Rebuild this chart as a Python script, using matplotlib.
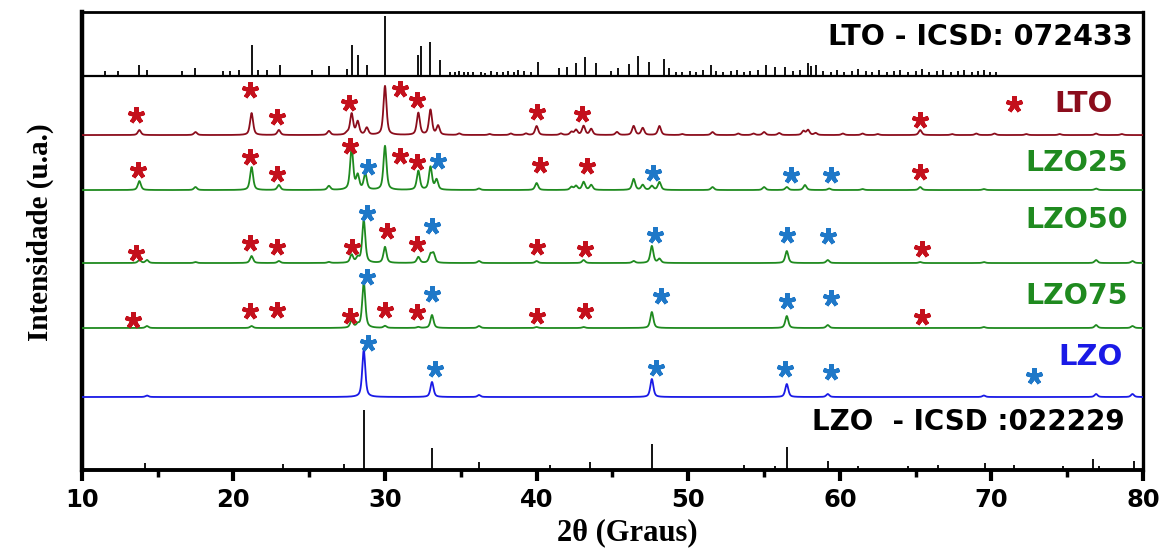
import numpy as np
import matplotlib
matplotlib.use("Agg")
import matplotlib.pyplot as plt
from matplotlib.ticker import MultipleLocator
from matplotlib.markers import MarkerStyle

# ---------------------------------------------------------------
# Reference cards (stick patterns): 2θ position and relative height
# ---------------------------------------------------------------
lto_card_pos = [11.5, 12.4, 13.8, 14.3, 16.6, 17.5, 19.3, 19.8, 20.4, 21.2, 21.6,
                22.2, 23.1, 25.2, 26.3, 27.5, 27.8, 28.2, 28.8, 30.0, 32.2, 32.4,
                33.0, 33.6, 34.3, 34.6, 34.9, 35.2, 35.5, 35.8, 36.3, 36.6, 37.0,
                37.4, 37.8, 38.1, 38.5, 38.8, 39.2, 39.6, 40.1, 41.5, 42.0, 42.6,
                43.2, 43.9, 44.9, 45.4, 46.1, 46.7, 47.4, 48.4, 48.7, 49.2, 49.6,
                50.1, 50.5, 51.0, 51.5, 51.8, 52.3, 52.8, 53.2, 53.7, 54.1, 54.6,
                55.1, 55.7, 56.4, 56.9, 57.4, 57.9, 58.1, 58.4, 58.9, 59.4, 59.8,
                60.3, 60.8, 61.2, 61.7, 62.1, 62.6, 63.1, 63.6, 64.0, 64.5, 65.0,
                65.4, 65.9, 66.4, 66.8, 67.3, 67.8, 68.2, 68.7, 69.1, 69.5, 69.9,
                70.3]
lto_card_int = [5, 5, 11, 6, 5, 8, 5, 5, 6, 31, 6,
                6, 11, 6, 10, 7, 31, 21, 11, 60, 21, 30,
                34, 16, 4, 4, 5, 4, 4, 4, 4, 3, 5,
                4, 4, 5, 4, 6, 5, 4, 14, 8, 9, 13,
                19, 13, 5, 8, 12, 20, 14, 17, 8, 4, 4,
                5, 4, 6, 11, 5, 4, 5, 6, 4, 5, 6,
                11, 9, 9, 5, 6, 13, 10, 11, 5, 4, 6,
                4, 5, 7, 5, 4, 6, 4, 5, 6, 4, 5,
                7, 4, 5, 6, 4, 5, 6, 4, 5, 6, 4,
                4]

lzo_card_pos = [14.2, 23.3, 27.3, 28.6, 33.1, 36.2, 40.9, 43.5, 47.6, 53.7, 55.7,
                56.5, 59.2, 61.2, 64.5, 66.5, 69.6, 71.5, 74.7, 76.7, 77.1, 79.4]
lzo_card_int = [7, 6, 6, 60, 22, 8, 5, 8, 26, 5, 4,
                23, 9, 4, 4, 5, 7, 5, 4, 11, 4, 9]

# ---------------------------------------------------------------
# Measured patterns: peak positions (2θ) and peak heights
# ---------------------------------------------------------------
lto_peak_pos = [13.8, 17.5, 21.2, 23.0, 26.3, 27.5, 27.8, 28.2, 28.8, 30.0, 32.2,
                33.0, 33.5, 34.9, 36.9, 38.3, 39.3, 40.0, 41.6, 42.3, 42.6, 43.1,
                43.6, 45.3, 46.4, 47.0, 48.1, 49.6, 51.6, 53.3, 54.3, 55.0, 56.0,
                57.6, 57.9, 58.4, 60.2, 61.5, 62.5, 65.3, 67.4, 69.0, 70.2, 72.3,
                74.5, 76.9, 78.6]
lto_peak_int = [5, 3, 22, 5, 4, 2, 21, 13, 7, 49, 22,
                25, 9, 1.5, 1, 1.5, 1.5, 9, 1.5, 3, 5, 9,
                6, 3, 9, 7, 9, 1, 3, 1.5, 1.5, 3, 2,
                4, 5, 2, 1.5, 1.5, 1, 5, 1, 1.5, 1.5, 1,
                1, 1.5, 1]

lzo25_peak_pos = [13.8, 17.5, 21.2, 23.0, 26.3, 27.8, 28.2, 28.7, 30.0, 32.2, 33.0,
                  33.4, 36.2, 40.0, 42.3, 42.6, 43.1, 43.6, 46.4, 47.0, 47.6, 48.1,
                  51.6, 55.0, 56.5, 57.7, 59.3, 61.5, 65.3, 69.5, 76.9]
lzo25_peak_int = [9, 3, 23, 5, 4, 42, 14, 16, 44, 19, 23,
                  10, 1.5, 7, 3, 4, 8, 5, 11, 5, 4, 8,
                  3, 3, 3, 5, 1.5, 1, 3, 1, 1.5]

lzo50_peak_pos = [13.8, 14.3, 17.5, 21.2, 23.0, 26.3, 27.8, 28.2, 28.6, 30.0, 32.2,
                  33.0, 33.2, 36.2, 40.0, 43.1, 46.4, 47.6, 48.1, 56.5, 59.2, 65.3,
                  69.5, 76.9, 79.3]
lzo50_peak_int = [3, 3, 1, 7, 2, 1, 8, 5, 43, 16, 6,
                  8, 9, 2, 2, 3, 2, 17, 4, 12, 3, 1,
                  1, 3, 2]

lzo75_peak_pos = [14.3, 21.2, 27.8, 28.2, 28.6, 30.0, 32.2, 33.1, 36.2, 40.0, 43.1,
                  47.6, 56.5, 59.2, 69.5, 76.9, 79.3]
lzo75_peak_int = [2, 2, 7, 3, 46, 2, 1, 13, 2, 1, 1,
                  16, 12, 3, 1, 3, 2]

lzo_peak_pos = [14.3, 28.6, 33.1, 36.2, 47.6, 56.5, 59.2, 69.5, 76.9, 79.3]
lzo_peak_int = [1.5, 47, 15, 2, 18, 13, 3, 1.5, 3, 3]

# ---------------------------------------------------------------
# Phase markers (2θ, height above each pattern's baseline)
# ---------------------------------------------------------------
lto_mark_lto_x = [13.6, 21.1, 22.9, 27.6, 31.0, 32.1, 40.0, 43.0, 65.3, 71.5]
lto_mark_lto_y = [20, 45, 18, 32, 46, 35, 23, 21, 15, 31]

lzo25_mark_lto_x = [13.7, 21.1, 22.9, 27.7, 31.0, 32.1, 40.2, 43.3, 65.3]
lzo25_mark_lto_y = [20, 33, 16, 44, 34, 28, 25, 24, 18]
lzo25_mark_lzo_x = [28.9, 33.5, 47.7, 56.8, 59.4]
lzo25_mark_lzo_y = [23, 29, 17, 15, 15]

lzo50_mark_lto_x = [13.6, 21.1, 22.9, 27.8, 30.1, 32.1, 40.0, 43.2, 65.4]
lzo50_mark_lto_y = [10, 20, 16, 16, 32, 19, 16, 14, 14]
lzo50_mark_lzo_x = [28.8, 33.1, 47.8, 56.5, 59.2]
lzo50_mark_lzo_y = [50, 37, 28, 28, 27]

lzo75_mark_lto_x = [13.4, 21.1, 22.9, 27.7, 30.0, 32.1, 40.0, 43.2, 65.4]
lzo75_mark_lto_y = [8, 17, 18, 12, 18, 16, 12, 17, 11]
lzo75_mark_lzo_x = [28.8, 33.1, 48.2, 56.5, 59.4]
lzo75_mark_lzo_y = [51, 34, 32, 27, 30]

lzo_mark_lzo_x = [28.9, 33.3, 47.9, 56.4, 59.4, 72.8]
lzo_mark_lzo_y = [54, 28, 29, 28, 25, 21]

# ---------------------------------------------------------------
# Layout: vertical offsets of each trace (stacked plot)
# ---------------------------------------------------------------
OFF_LZO_CARD = 0
OFF_LZO = 73
OFF_LZO75 = 142
OFF_LZO50 = 207
OFF_LZO25 = 280
OFF_LTO = 335
OFF_LTO_CARD = 394
Y_TOP = 458

C_LTO = "#8b0d1c"
C_GREEN = "#1f8a1f"
C_BLUE = "#1a1ae6"
C_STAR_RED = "#c4101c"
C_STAR_BLUE = "#1f78c8"

two_theta = np.linspace(10, 80, 7001)


def pattern(pos, hts, width=0.12):
    """Sum of pseudo-Voigt peaks on a flat background."""
    y = np.zeros_like(two_theta)
    for p, h in zip(pos, hts):
        d = (two_theta - p) / width
        lor = 1.0 / (1.0 + d ** 2)
        gau = np.exp(-np.log(2) * d ** 2)
        y += h * (0.6 * lor + 0.4 * gau)
    return y


fig = plt.figure(figsize=(11.73, 5.49), dpi=100)
ax = fig.add_axes([0.0697, 0.1439, 0.9048, 0.8341])

# Reference cards
ax.axhline(OFF_LTO_CARD, color="black", lw=1.6, zorder=2)
ax.vlines(lto_card_pos, OFF_LTO_CARD, OFF_LTO_CARD + np.array(lto_card_int),
          color="black", lw=1.3, zorder=2)
ax.vlines(lzo_card_pos, OFF_LZO_CARD, OFF_LZO_CARD + np.array(lzo_card_int),
          color="black", lw=1.3, zorder=2)

# Measured patterns
traces = [
    (lto_peak_pos, lto_peak_int, OFF_LTO, C_LTO),
    (lzo25_peak_pos, lzo25_peak_int, OFF_LZO25, C_GREEN),
    (lzo50_peak_pos, lzo50_peak_int, OFF_LZO50, C_GREEN),
    (lzo75_peak_pos, lzo75_peak_int, OFF_LZO75, C_GREEN),
    (lzo_peak_pos, lzo_peak_int, OFF_LZO, C_BLUE),
]
for pos, hts, off, col in traces:
    ax.plot(two_theta, off + pattern(pos, hts), color=col, lw=1.3, zorder=3)

# Phase markers
star = MarkerStyle((5, 2, 0), capstyle="round")
marks = [
    (lto_mark_lto_x, lto_mark_lto_y, OFF_LTO, C_STAR_RED),
    (lzo25_mark_lto_x, lzo25_mark_lto_y, OFF_LZO25, C_STAR_RED),
    (lzo25_mark_lzo_x, lzo25_mark_lzo_y, OFF_LZO25, C_STAR_BLUE),
    (lzo50_mark_lto_x, lzo50_mark_lto_y, OFF_LZO50, C_STAR_RED),
    (lzo50_mark_lzo_x, lzo50_mark_lzo_y, OFF_LZO50, C_STAR_BLUE),
    (lzo75_mark_lto_x, lzo75_mark_lto_y, OFF_LZO75, C_STAR_RED),
    (lzo75_mark_lzo_x, lzo75_mark_lzo_y, OFF_LZO75, C_STAR_BLUE),
    (lzo_mark_lzo_x, lzo_mark_lzo_y, OFF_LZO, C_STAR_BLUE),
]
for xs, ys, off, col in marks:
    ax.plot(xs, off + np.array(ys), ls="none", marker=star, ms=12,
            mew=3.0, color=col, zorder=4)

# Labels
lab_font = dict(family="DejaVu Sans", weight="bold", ha="right", va="center")
ax.text(79.3, 433, "LTO - ICSD: 072433", color="black", fontsize=20.5, **lab_font)
ax.text(78.0, 366, "LTO", color=C_LTO, fontsize=21, **lab_font)
ax.text(79.0, 307, "LZO25", color=C_GREEN, fontsize=20.5, **lab_font)
ax.text(79.0, 250, "LZO50", color=C_GREEN, fontsize=20.5, **lab_font)
ax.text(79.0, 174, "LZO75", color=C_GREEN, fontsize=20.5, **lab_font)
ax.text(78.65, 113, "LZO", color=C_BLUE, fontsize=21, **lab_font)
ax.text(78.8, 48, "LZO  - ICSD :022229", color="black", fontsize=20, **lab_font)

# Axes styling
ax.set_xlim(10, 80)
ax.set_ylim(0, Y_TOP)
ax.xaxis.set_major_locator(MultipleLocator(10))
ax.xaxis.set_minor_locator(MultipleLocator(5))
ax.tick_params(axis="x", which="major", direction="out", length=8, width=3,
               pad=5, labelsize=17.5)
ax.tick_params(axis="x", which="minor", direction="out", length=5, width=2.5)
ax.set_yticks([])
for lbl in ax.get_xticklabels():
    lbl.set_fontfamily("DejaVu Sans")
    lbl.set_fontweight("bold")
ax.spines["left"].set_linewidth(3.2)
ax.spines["bottom"].set_linewidth(2.8)
ax.spines["top"].set_linewidth(2.0)
ax.spines["right"].set_linewidth(2.4)

fig.text(0.535, 1 - 533 / 549, "2θ (Graus)", family="Liberation Serif",
         weight="bold", fontsize=22, ha="center", va="center")
fig.text(40 / 1173, 1 - 232 / 549, "Intensidade (u.a.)", family="Liberation Serif",
         weight="bold", fontsize=21, rotation=90, ha="center", va="center")

fig.savefig("out.png", dpi=100)
